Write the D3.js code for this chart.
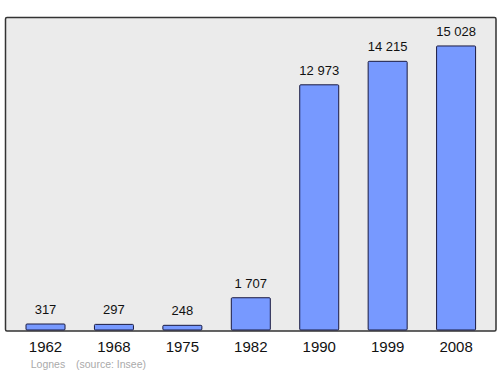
<!DOCTYPE html>
<html>
<head>
<meta charset="utf-8">
<script src="https://cdn.jsdelivr.net/npm/d3@7"></script>
<style>
  body { margin: 0; background: #fff; }
  text { font-family: "Liberation Sans", Arial, sans-serif; }
</style>
</head>
<body>
<div id="chart"></div>
<script>
// data
var years = ['1962', '1968', '1975', '1982', '1990', '1999', '2008']
var population = [317, 297, 248, 1707, 12973, 14215, 15028]
var labels = ['317', '297', '248', '1 707', '12 973', '14 215', '15 028']

var width = 500
var height = 374

var svg = d3.select('#chart')
  .append('svg')
  .attr('width', width)
  .attr('height', height)

// plot frame
var frame = { left: 5.5, top: 17.5, right: 496, bottom: 331 }

svg.append('rect')
  .attr('x', frame.left)
  .attr('y', frame.top)
  .attr('width', frame.right - frame.left)
  .attr('height', frame.bottom - frame.top)
  .attr('rx', 1.5)
  .attr('fill', '#ebebeb')
  .attr('stroke', '#333')
  .attr('stroke-width', 1.5)

var xPositionScale = d3.scaleBand()
  .domain(years)
  .range([11.3, 490.3])
  .paddingInner(0.43)
  .paddingOuter(0.215)

var yPositionScale = d3.scaleLinear()
  .domain([0, 16560])
  .range([330, 17])

var data = years.map(function(y, i) {
  return { year: y, value: population[i], label: labels[i] }
})

// bars
svg.selectAll('.bar')
  .data(data)
  .enter()
  .append('rect')
  .attr('class', 'bar')
  .attr('x', d => xPositionScale(d.year))
  .attr('y', d => yPositionScale(d.value))
  .attr('width', xPositionScale.bandwidth())
  .attr('height', d => yPositionScale(0) - yPositionScale(d.value))
  .attr('rx', 1)
  .attr('fill', '#7799ff')
  .attr('stroke', '#1a1a40')
  .attr('stroke-width', 1)

// value labels
svg.selectAll('.value')
  .data(data)
  .enter()
  .append('text')
  .attr('class', 'value')
  .attr('x', d => xPositionScale(d.year) + xPositionScale.bandwidth() / 2)
  .attr('y', d => yPositionScale(d.value) - 10)
  .attr('text-anchor', 'middle')
  .style('font-size', '13px')
  .attr('fill', '#111')
  .text(d => d.label)

// year axis
var xAxis = d3.axisBottom(xPositionScale).tickSize(0).tickPadding(0)

svg.append('g')
  .attr('class', 'axis x-axis')
  .attr('transform', 'translate(0,340)')
  .call(xAxis)
  .call(g => g.select('.domain').remove())
  .selectAll('text')
  .attr('dy', '0.8em')
  .style('font-size', '15px')
  .style('font-family', '"Liberation Sans", Arial, sans-serif')
  .attr('fill', '#111')

// source note
svg.append('text')
  .attr('x', 48)
  .attr('y', 368)
  .attr('text-anchor', 'middle')
  .style('font-size', '10.5px')
  .attr('fill', '#aaa')
  .text('Lognes')

svg.append('text')
  .attr('x', 76)
  .attr('y', 368)
  .style('font-size', '10.5px')
  .attr('fill', '#aaa')
  .text('(source: Insee)')
</script>
</body>
</html>
